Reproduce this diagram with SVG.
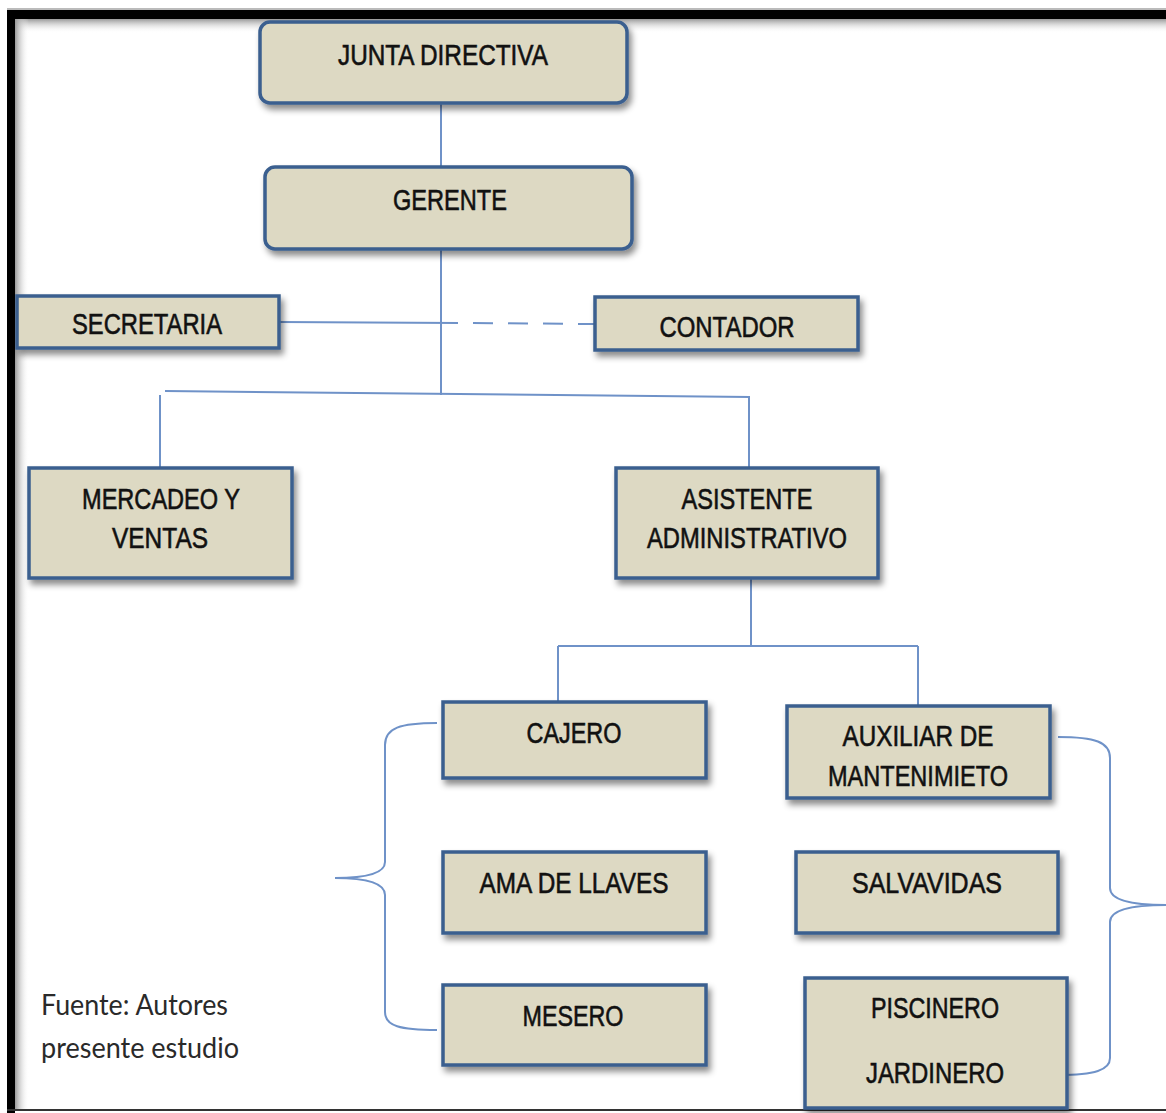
<svg xmlns="http://www.w3.org/2000/svg" width="1166" height="1113" viewBox="0 0 1166 1113">
<style>
.box{fill:#DDD9C3;stroke:#3A5F8F;stroke-width:3.5;filter:url(#sh)}
.t{font-family:"Liberation Sans Narrow","Arial Narrow","Liberation Sans",sans-serif;font-size:30px;fill:#111;stroke:#111;stroke-width:0.6;text-anchor:middle}
.c{fill:none;stroke:#6F92C8;stroke-width:2}
.f{font-family:Lato,"Open Sans","Noto Sans",sans-serif;font-size:28px;fill:#2a2a2a}
</style>
<defs>
<filter id="sh" x="-10%" y="-20%" width="130%" height="160%">
<feDropShadow dx="3" dy="5" stdDeviation="3" flood-color="#000" flood-opacity="0.45"/>
</filter>
<linearGradient id="gt" x1="0" y1="0" x2="0" y2="1">
<stop offset="0" stop-color="#999"/><stop offset="1" stop-color="#fff" stop-opacity="0"/>
</linearGradient>
<linearGradient id="gl" x1="0" y1="0" x2="1" y2="0">
<stop offset="0" stop-color="#999"/><stop offset="1" stop-color="#fff" stop-opacity="0"/>
</linearGradient>
</defs>
<rect width="1166" height="1113" fill="#fff"/>
<g id="frame">
<rect x="7" y="19" width="1159" height="14" fill="url(#gt)"/>
<rect x="15" y="19" width="14" height="1091" fill="url(#gl)"/>
<rect x="7" y="8" width="1159" height="2" fill="#bbb"/>
<rect x="7" y="10" width="1159" height="9" fill="#000"/>
<rect x="7" y="10" width="8" height="1103" fill="#000"/>
<rect x="7" y="1109" width="1159" height="2" fill="#333"/>
</g>
<g id="connectors">
<line class="c" x1="441" y1="103" x2="441" y2="167"/>
<line class="c" x1="441" y1="249" x2="441" y2="395"/>
<polyline class="c" points="279,322 458,323"/>
<line class="c" x1="458" y1="323" x2="595" y2="324" stroke-dasharray="0 15 20 15 20 15 20 15 20"/>
<polyline class="c" points="165,391 750,397"/>
<line class="c" x1="160" y1="395" x2="160" y2="468"/>
<line class="c" x1="749" y1="397" x2="749" y2="468"/>
<line class="c" x1="751" y1="578" x2="751" y2="646"/>
<line class="c" x1="558" y1="646" x2="918" y2="646"/>
<line class="c" x1="558" y1="646" x2="558" y2="702"/>
<line class="c" x1="918" y1="646" x2="918" y2="706"/>
<path class="c" d="M437,723 C400,723 385,728 385,745 L385,862 C385,872 370,878 335,878 C370,878 385,884 385,895 L385,1012 C385,1026 400,1030 437,1030"/>
<path class="c" d="M1058,737 C1095,737 1110,742 1110,758 L1110,888 C1110,898 1125,905 1166,905 C1125,905 1110,912 1110,922 L1110,1058 C1110,1070 1095,1075 1058,1075"/>
</g>
<g id="junta"><rect class="box" x="260" y="22" width="367" height="81" rx="10"/><text class="t" x="443" y="65" textLength="210" lengthAdjust="spacingAndGlyphs">JUNTA DIRECTIVA</text></g>
<g id="gerente"><rect class="box" x="265" y="167" width="367" height="82" rx="10"/><text class="t" x="450" y="210" textLength="114" lengthAdjust="spacingAndGlyphs">GERENTE</text></g>
<g id="secretaria"><rect class="box" x="17" y="296" width="262" height="52"/><text class="t" x="147" y="334" textLength="150" lengthAdjust="spacingAndGlyphs">SECRETARIA</text></g>
<g id="contador"><rect class="box" x="595" y="297" width="263" height="53"/><text class="t" x="727" y="337" textLength="135" lengthAdjust="spacingAndGlyphs">CONTADOR</text></g>
<g id="mercadeo"><rect class="box" x="29" y="468" width="263" height="110"/><text class="t" x="161" y="509" textLength="158" lengthAdjust="spacingAndGlyphs">MERCADEO Y</text><text class="t" x="160" y="548" textLength="96" lengthAdjust="spacingAndGlyphs">VENTAS</text></g>
<g id="asistente"><rect class="box" x="616" y="468" width="262" height="110"/><text class="t" x="747" y="509" textLength="131" lengthAdjust="spacingAndGlyphs">ASISTENTE</text><text class="t" x="747" y="548" textLength="200" lengthAdjust="spacingAndGlyphs">ADMINISTRATIVO</text></g>
<g id="cajero"><rect class="box" x="443" y="702" width="263" height="76"/><text class="t" x="574" y="743" textLength="95" lengthAdjust="spacingAndGlyphs">CAJERO</text></g>
<g id="auxiliar"><rect class="box" x="787" y="706" width="263" height="92"/><text class="t" x="918" y="746" textLength="151" lengthAdjust="spacingAndGlyphs">AUXILIAR DE</text><text class="t" x="918" y="786" textLength="180" lengthAdjust="spacingAndGlyphs">MANTENIMIETO</text></g>
<g id="ama"><rect class="box" x="443" y="852" width="263" height="81"/><text class="t" x="574" y="893" textLength="189" lengthAdjust="spacingAndGlyphs">AMA DE LLAVES</text></g>
<g id="salvavidas"><rect class="box" x="796" y="852" width="262" height="81"/><text class="t" x="927" y="893" textLength="150" lengthAdjust="spacingAndGlyphs">SALVAVIDAS</text></g>
<g id="mesero"><rect class="box" x="443" y="985" width="263" height="80"/><text class="t" x="573" y="1026" textLength="101" lengthAdjust="spacingAndGlyphs">MESERO</text></g>
<g id="piscinero"><rect class="box" x="805" y="978" width="262" height="130"/><text class="t" x="935" y="1018" textLength="128" lengthAdjust="spacingAndGlyphs">PISCINERO</text><text class="t" x="935" y="1083" textLength="138" lengthAdjust="spacingAndGlyphs">JARDINERO</text></g>
<g id="fuente"><text class="f" x="41" y="1015" textLength="187" lengthAdjust="spacingAndGlyphs">Fuente: Autores</text><text class="f" x="41" y="1058" textLength="198" lengthAdjust="spacingAndGlyphs">presente estudio</text></g>
</svg>
